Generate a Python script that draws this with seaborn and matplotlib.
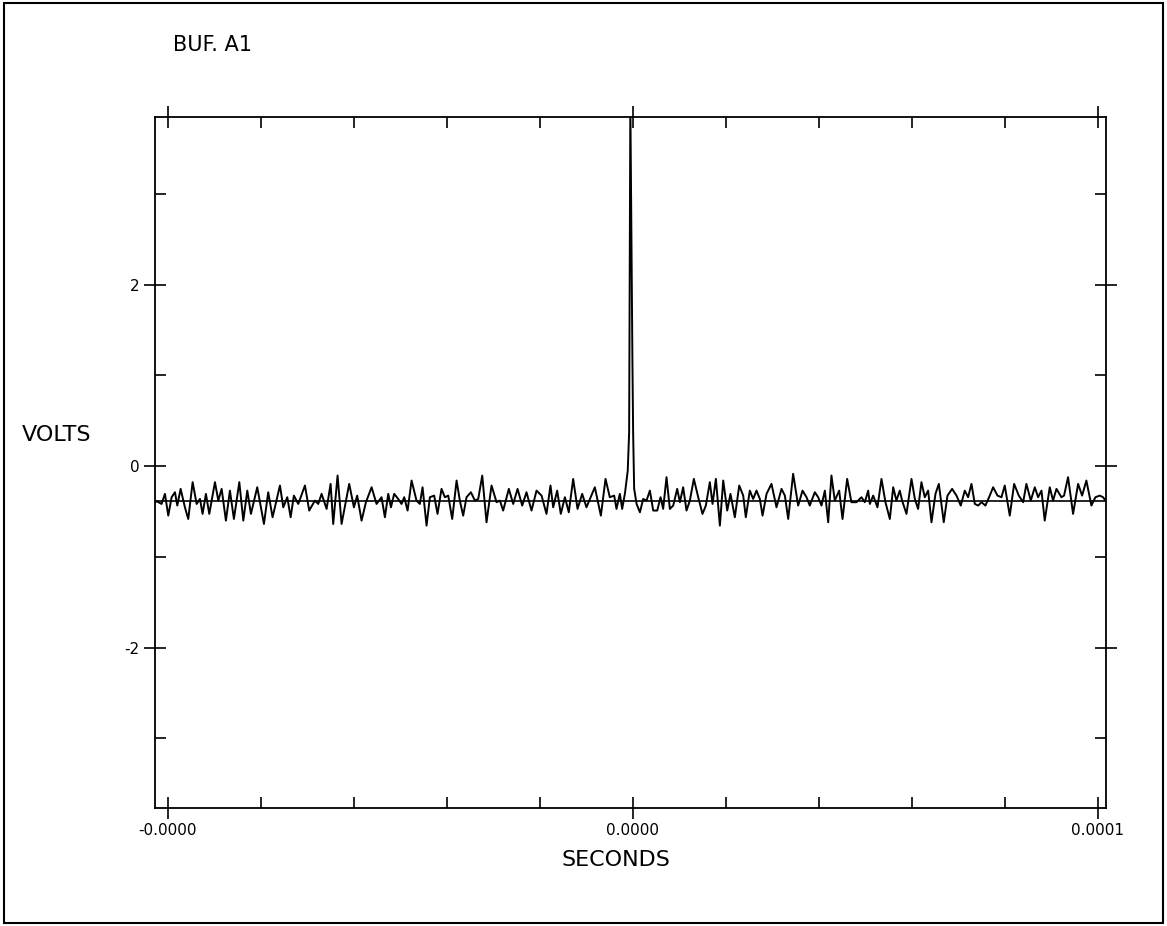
import matplotlib
matplotlib.use("Agg")
import matplotlib.pyplot as plt
import seaborn as sns
import numpy as np
import pandas as pd
from matplotlib.patches import Rectangle

# ---------------- data ----------------
title_text = "BUF. A1"
x_label = "SECONDS"
y_label = "VOLTS"

# extrema of the noisy trace, time in microseconds, amplitude in volts
time_a = [-51.4, -51.22, -50.69, -50.33, -49.97, -49.61, -49.25, -49.0, -48.64, -48.18,
          -47.82, -47.35, -46.92, -46.56, -46.28, -45.92, -45.56, -44.95, -44.59, -44.23,
          -43.77, -43.34, -42.91, -42.33, -41.9, -41.47, -41.08, -40.4, -39.68, -39.22,
          -38.75, -37.96, -37.6, -37.17, -36.81, -36.46, -35.99, -35.27, -34.81, -34.2,
          -33.84, -33.48, -32.94, -32.51, -32.23, -31.76, -31.33, -30.51, -30.0, -29.65,
          -29.18, -28.71, -28.1, -27.57, -27.03, -26.67, -26.31]
volts_a = [-0.40, -0.387, -0.417, -0.306, -0.546, -0.343, -0.288, -0.435, -0.251, -0.454,
           -0.583, -0.177, -0.417, -0.362, -0.527, -0.306, -0.527, -0.177, -0.38, -0.251,
           -0.601, -0.27, -0.583, -0.177, -0.601, -0.27, -0.527, -0.233, -0.638, -0.288,
           -0.564, -0.214, -0.454, -0.343, -0.564, -0.325, -0.417, -0.214, -0.49, -0.38,
           -0.417, -0.306, -0.472, -0.196, -0.638, -0.104, -0.638, -0.196, -0.454, -0.325,
           -0.601, -0.398, -0.233, -0.417, -0.343, -0.564, -0.306]

time_b = [-26.02, -25.67, -25.24, -24.88, -24.59, -24.23, -23.8, -23.27, -22.91, -22.62,
          -22.19, -21.83, -21.37, -21.01, -20.58, -20.22, -19.86, -19.43, -18.96, -18.61,
          -18.25, -17.89, -17.42, -16.99, -16.63, -16.2, -15.74, -15.2, -14.66, -14.3,
          -13.95, -13.34, -12.87, -12.4, -11.9, -11.44, -10.9, -10.36, -9.82, -9.29,
          -8.86, -8.57, -8.14, -7.75, -7.31, -6.89, -6.42, -5.95, -5.45, -4.99,
          -4.09, -3.44, -2.94, -2.48, -2.01, -1.76, -1.4, -1.15]
volts_b = [-0.454, -0.306, -0.362, -0.417, -0.343, -0.49, -0.159, -0.38, -0.417, -0.233,
           -0.656, -0.343, -0.325, -0.527, -0.251, -0.343, -0.325, -0.583, -0.159, -0.38,
           -0.546, -0.343, -0.288, -0.38, -0.362, -0.104, -0.619, -0.214, -0.398, -0.38,
           -0.49, -0.251, -0.417, -0.251, -0.435, -0.288, -0.49, -0.27, -0.325, -0.527,
           -0.214, -0.454, -0.27, -0.527, -0.343, -0.509, -0.141, -0.472, -0.306, -0.454,
           -0.233, -0.546, -0.141, -0.343, -0.325, -0.472, -0.306, -0.472]

# the pulse near t = 0
time_pulse = [-0.85, -0.55, -0.40, -0.27, -0.05, 0.03, 0.14]
volts_pulse = [-0.30, -0.05, 0.37, 4.0, 1.2, 0.37, -0.25]

time_c = [0.40, 0.76, 1.11, 1.47, 1.83, 2.19, 2.62, 2.98, 3.26, 3.62,
          3.98, 4.34, 4.77, 5.06, 5.41, 5.77, 6.13, 6.56, 7.03, 7.49,
          7.85, 8.28, 8.57, 8.93, 9.36, 9.72, 10.15, 10.5, 10.97, 11.44,
          11.87, 12.15, 12.58, 12.94, 13.3, 13.66, 13.95, 14.38, 14.91, 15.45,
          15.99, 16.35, 16.71, 17.24, 17.78, 18.25, 18.68, 19.03, 19.57, 19.93,
          20.29, 20.65, 21.01, 21.36, 21.72, 22.19, 22.55, 23.05, 23.51, 24.05,
          24.59, 24.95, 25.31]
volts_c = [-0.417, -0.509, -0.362, -0.38, -0.27, -0.49, -0.49, -0.343, -0.472, -0.122,
           -0.472, -0.435, -0.251, -0.398, -0.233, -0.49, -0.38, -0.141, -0.343, -0.527,
           -0.435, -0.177, -0.417, -0.141, -0.656, -0.159, -0.49, -0.306, -0.564, -0.214,
           -0.325, -0.564, -0.27, -0.362, -0.27, -0.362, -0.546, -0.306, -0.196, -0.454,
           -0.251, -0.325, -0.583, -0.085, -0.435, -0.27, -0.343, -0.435, -0.288, -0.343,
           -0.435, -0.27, -0.619, -0.104, -0.38, -0.27, -0.583, -0.141, -0.398, -0.398,
           -0.343, -0.398, -0.27]

time_d = [25.49, 25.85, 26.31, 26.74, 27.17, 27.64, 28.0, 28.35, 28.71, 28.96,
          29.43, 29.97, 30.33, 30.68, 31.04, 31.4, 31.76, 32.12, 32.55, 32.91,
          33.44, 33.84, 34.34, 34.81, 35.27, 35.7, 36.06, 36.42, 36.78, 37.14,
          37.5, 37.92, 38.39, 38.75, 39.22, 39.65, 40.0, 40.54, 41.01, 41.51,
          41.98, 42.33, 42.8, 43.23, 43.59, 43.95, 44.3, 44.84, 45.2, 45.56,
          46.1, 46.38, 46.81, 47.35, 47.89, 48.32, 48.78, 49.32, 49.75, 50.22,
          50.58, 50.83]
volts_d = [-0.417, -0.325, -0.454, -0.141, -0.398, -0.583, -0.233, -0.38, -0.27, -0.38,
           -0.527, -0.141, -0.362, -0.472, -0.177, -0.343, -0.27, -0.619, -0.306, -0.196,
           -0.619, -0.325, -0.251, -0.325, -0.435, -0.27, -0.343, -0.196, -0.417, -0.435,
           -0.398, -0.435, -0.325, -0.233, -0.325, -0.343, -0.214, -0.546, -0.196, -0.325,
           -0.398, -0.196, -0.38, -0.233, -0.343, -0.27, -0.601, -0.233, -0.38, -0.251,
           -0.343, -0.325, -0.122, -0.527, -0.196, -0.325, -0.159, -0.435, -0.343, -0.325,
           -0.343, -0.38]

baseline_volts = -0.38
x_range_us = [-51.4, 50.9]
y_range = [-3.77, 3.85]
x_major_us = [-50, 0, 50]
x_major_labels = ["-0.0000", "0.0000", "0.0001"]
x_minor_us = [-40, -30, -20, -10, 10, 20, 30, 40]
y_major = [-2, 0, 2]
y_major_labels = ["-2", "0", "2"]
y_minor = [-3, -1, 1, 3]

# ---------------- build frames ----------------
t_all = np.array(time_a + time_b + time_pulse + time_c + time_d) * 1e-6
v_all = np.array(volts_a + volts_b + volts_pulse + volts_c + volts_d)
trace = pd.DataFrame({"seconds": t_all, "volts": v_all})
base = pd.DataFrame({"seconds": np.array(x_range_us) * 1e-6,
                     "volts": [baseline_volts, baseline_volts]})

# ---------------- plot ----------------
sns.set_theme(style="white")
plt.rcParams["font.family"] = ["DejaVu Sans"]

fig = plt.figure(figsize=(11.67, 9.26), dpi=100)
ax = fig.add_axes([0.1328, 0.1274, 0.8150, 0.7463])

sns.lineplot(data=base, x="seconds", y="volts", ax=ax, color="black",
             linewidth=1.2, estimator=None, sort=False)
sns.lineplot(data=trace, x="seconds", y="volts", ax=ax, color="black",
             linewidth=1.4, estimator=None, sort=False)

ax.set_xlim(x_range_us[0] * 1e-6, x_range_us[1] * 1e-6)
ax.set_ylim(*y_range)

ax.set_xticks([v * 1e-6 for v in x_major_us])
ax.set_xticklabels(x_major_labels)
ax.set_xticks([v * 1e-6 for v in x_minor_us], minor=True)
ax.set_yticks(y_major)
ax.set_yticklabels(y_major_labels)
ax.set_yticks(y_minor, minor=True)

ax.tick_params(which="major", direction="inout", length=16, width=1.2,
               color="black", top=True, right=True, bottom=True, left=True,
               labelsize=11, labelcolor="black", pad=3)
ax.tick_params(which="minor", direction="in", length=8, width=1.2,
               color="black", top=True, right=True, bottom=True, left=True)
ax.tick_params(axis="x", which="both", labeltop=False, labelbottom=True)
ax.tick_params(axis="y", which="both", labelright=False, labelleft=True)

for s in ax.spines.values():
    s.set_visible(True)
    s.set_color("black")
    s.set_linewidth(1.3)

ax.set_xlabel("")
ax.set_ylabel("")

fig.text(173 / 1167, 1 - 45 / 926, title_text, fontsize=15, ha="left",
         va="center", color="black")
fig.text(22 / 1167, 1 - 435 / 926, y_label, fontsize=16, ha="left",
         va="center", color="black")
fig.text(616 / 1167, 1 - 860 / 926, x_label, fontsize=16, ha="center",
         va="center", color="black")

fig.patches.append(Rectangle((0.003, 0.003), 0.994, 0.994,
                             transform=fig.transFigure, fill=False,
                             edgecolor="black", linewidth=1.5))

fig.savefig("out.png", dpi=100, facecolor="white")
